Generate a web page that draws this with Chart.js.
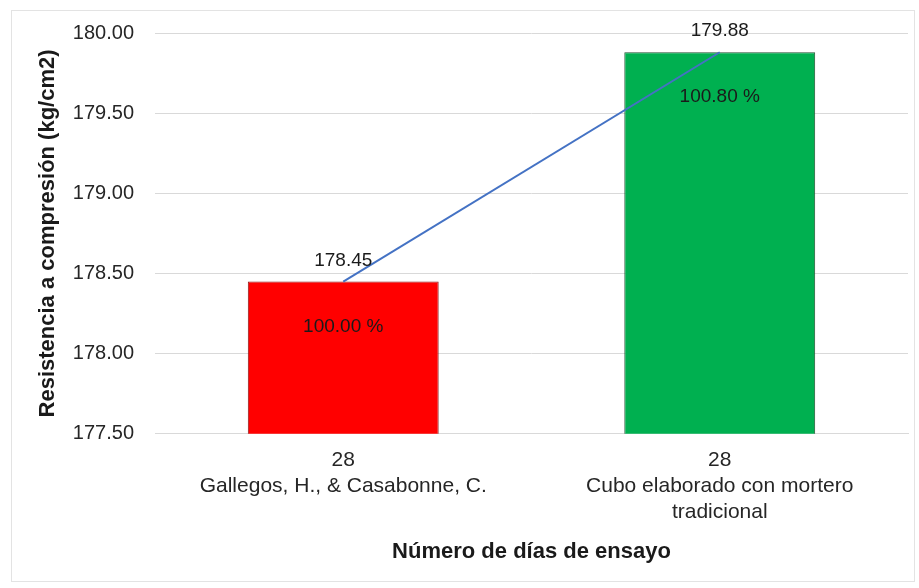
<!DOCTYPE html>
<html>
<head>
<meta charset="utf-8">
<script src="https://cdn.jsdelivr.net/npm/chart.js@4"></script>
<style>
	html, body { margin: 0; padding: 0; background: #fff; }
	#wrap { position: relative; width: 919px; height: 588px; }
	#frame { position: absolute; left: 11px; top: 10px; width: 902px; height: 570px; border: 1px solid #e3e3e3; }
	canvas { position: absolute; left: 0; top: 0; }
</style>
</head>
<body>
<div id="wrap">
	<div id="frame"></div>
	<canvas id="myChart" width="919" height="588"></canvas>
</div>
<script>
const days = ['28', '28'];
const sources = [['Gallegos, H., & Casabonne, C.'], ['Cubo elaborado con mortero', 'tradicional']];
const resistance = [178.45, 179.88];
const percentages = [100.00, 100.80];
const barColors = ['#ff0000', '#00b050'];
const barBorders = ['#8b1a1a', '#1f5130'];

// tick labels: day on top, source below
const labels = days.map((d, i) => [d].concat(sources[i]));

const fontFamily = "'Liberation Sans', Arial, sans-serif";
Chart.defaults.font.family = fontFamily;
Chart.defaults.color = '#262626';

const valueLabels = {
	id: 'valueLabels',
	afterDatasetsDraw(chart) {
		const ctx = chart.ctx;
		const meta = chart.getDatasetMeta(1);
		ctx.save();
		ctx.font = '19px ' + fontFamily;
		ctx.fillStyle = '#1a1a1a';
		ctx.textAlign = 'center';
		ctx.textBaseline = 'middle';
		meta.data.forEach((bar, i) => {
			ctx.fillText(resistance[i].toFixed(2), bar.x, bar.y - 21);
			ctx.fillText(percentages[i].toFixed(2) + ' %', bar.x, bar.y + 45);
		});
		ctx.restore();
	}
};

const chartRef = document.getElementById('myChart').getContext('2d');
new Chart(chartRef, {
	data: {
		labels,
		datasets: [
			{
				type: 'line',
				data: resistance,
				borderColor: '#4472c4',
				borderWidth: 2,
				pointRadius: 0,
				order: 1
			},
			{
				type: 'bar',
				data: resistance,
				backgroundColor: barColors,
				borderColor: barBorders,
				borderWidth: 1,
				categoryPercentage: 1,
				barPercentage: 0.507,
				order: 2
			}
		]
	},
	options: {
		responsive: false,
		animation: false,
		layout: { padding: { left: 35, right: 11, top: 33, bottom: 11 } },
		plugins: {
			legend: { display: false },
			tooltip: { enabled: false }
		},
		scales: {
			x: {
				offset: true,
				grid: { display: false, drawTicks: false },
				border: { display: true, color: '#d9d9d9' },
				ticks: {
					font: { size: 21, lineHeight: 1.25 },
					color: '#262626',
					padding: 13,
					maxRotation: 0,
					autoSkip: false
				},
				title: {
					display: true,
					text: 'Número de días de ensayo',
					font: { size: 22, weight: 'bold' },
					color: '#1a1a1a',
					padding: { top: 0, bottom: 12 }
				}
			},
			y: {
				min: 177.5,
				max: 180,
				afterFit: scale => { scale.width = 120; },
				grid: { color: '#d9d9d9', drawTicks: false },
				border: { display: false },
				ticks: {
					stepSize: 0.5,
					font: { size: 20 },
					color: '#262626',
					padding: 21,
					callback: v => v.toFixed(2)
				},
				title: {
					display: true,
					text: 'Resistencia a compresión (kg/cm2)',
					font: { size: 22, weight: 'bold' },
					color: '#1a1a1a',
					padding: { top: 0, bottom: 12 }
				}
			}
		}
	},
	plugins: [valueLabels]
});
</script>
</body>
</html>
